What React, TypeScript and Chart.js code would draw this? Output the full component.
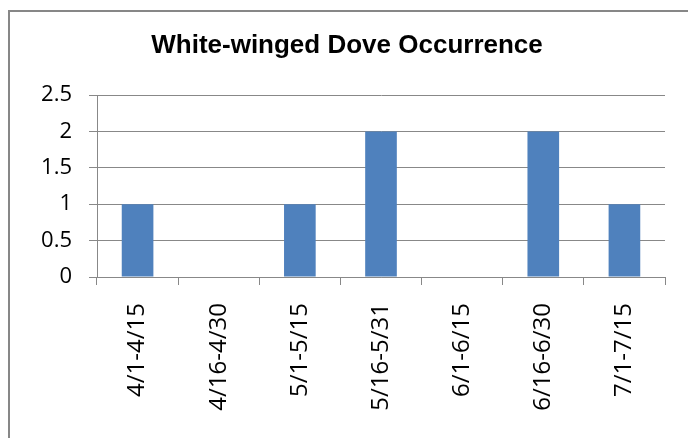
import React, { useEffect, useRef } from "react";
import { Chart, registerables } from "chart.js";

Chart.register(...registerables);

const categories = ["4/1-4/15", "4/16-4/30", "5/1-5/15", "5/16-5/31", "6/1-6/15", "6/16-6/30", "7/1-7/15"];
const occurrences = [1, 0, 1, 2, 0, 2, 1];
const yTicks = [0, 0.5, 1, 1.5, 2, 2.5];
const titleText = "White-winged Dove Occurrence";

const titlePlugin = {
  id: "fixedTitle",
  afterDraw(chart: any) {
    const ctx = chart.ctx;
    ctx.save();
    ctx.fillStyle = "#000";
    ctx.font = "bold 26px 'Liberation Sans', Arial, sans-serif";
    ctx.textAlign = "center";
    ctx.textBaseline = "middle";
    ctx.fillText(titleText, 347, 46);
    ctx.restore();
  },
};

export default function App() {
  const ref = useRef<HTMLCanvasElement | null>(null);
  useEffect(() => {
    if (!ref.current) return;
    const chart = new Chart(ref.current, {
      type: "bar",
      data: {
        labels: categories,
        datasets: [
          {
            data: occurrences,
            backgroundColor: "#4F81BD",
            barPercentage: 0.39,
            categoryPercentage: 1,
          },
        ],
      },
      plugins: [titlePlugin],
      options: {
        animation: false,
        responsive: false,
        maintainAspectRatio: false,
        layout: { padding: { left: 0, right: 23, top: 95, bottom: 0 } },
        plugins: {
          legend: { display: false },
          tooltip: { enabled: false },
          title: { display: false },
        },
        scales: {
          x: {
            offset: true,
            grid: { display: true, drawOnChartArea: false, drawTicks: true, tickLength: 8, color: "#888", lineWidth: 1, offset: true },
            border: { display: true, color: "#888", width: 1 },
            ticks: {
              minRotation: 90,
              maxRotation: 90,
              autoSkip: false,
              padding: 18,
              color: "#000",
              font: { family: "'Open Sans', sans-serif", size: 24 },
            },
            afterFit: (s: any) => {
              s.height = 161;
            },
          },
          y: {
            min: 0,
            max: 2.5,
            afterBuildTicks: (s: any) => {
              s.ticks = yTicks.map((v) => ({ value: v }));
            },
            grid: { color: "#888", lineWidth: 1, tickLength: 8, drawTicks: true },
            border: { display: true, color: "#888", width: 1 },
            ticks: {
              padding: 17,
              color: "#000",
              font: { family: "'Open Sans', sans-serif", size: 22 },
              callback: (v: any) => String(v),
            },
            afterFit: (s: any) => {
              s.width = 97;
            },
          },
        },
      },
    });
    return () => chart.destroy();
  }, []);

  return (
    <div style={{ position: "fixed", left: 0, top: 0, width: 688, height: 438, overflow: "hidden", background: "#fff" }}>
      <div
        style={{
          position: "absolute",
          left: 8,
          top: 10,
          width: 720,
          height: 480,
          borderLeft: "2px solid #878787",
          borderTop: "2px solid #878787",
        }}
      />
      <canvas ref={ref} width={688} height={438} style={{ position: "absolute", left: 0, top: 0, width: 688, height: 438 }} />
    </div>
  );
}
